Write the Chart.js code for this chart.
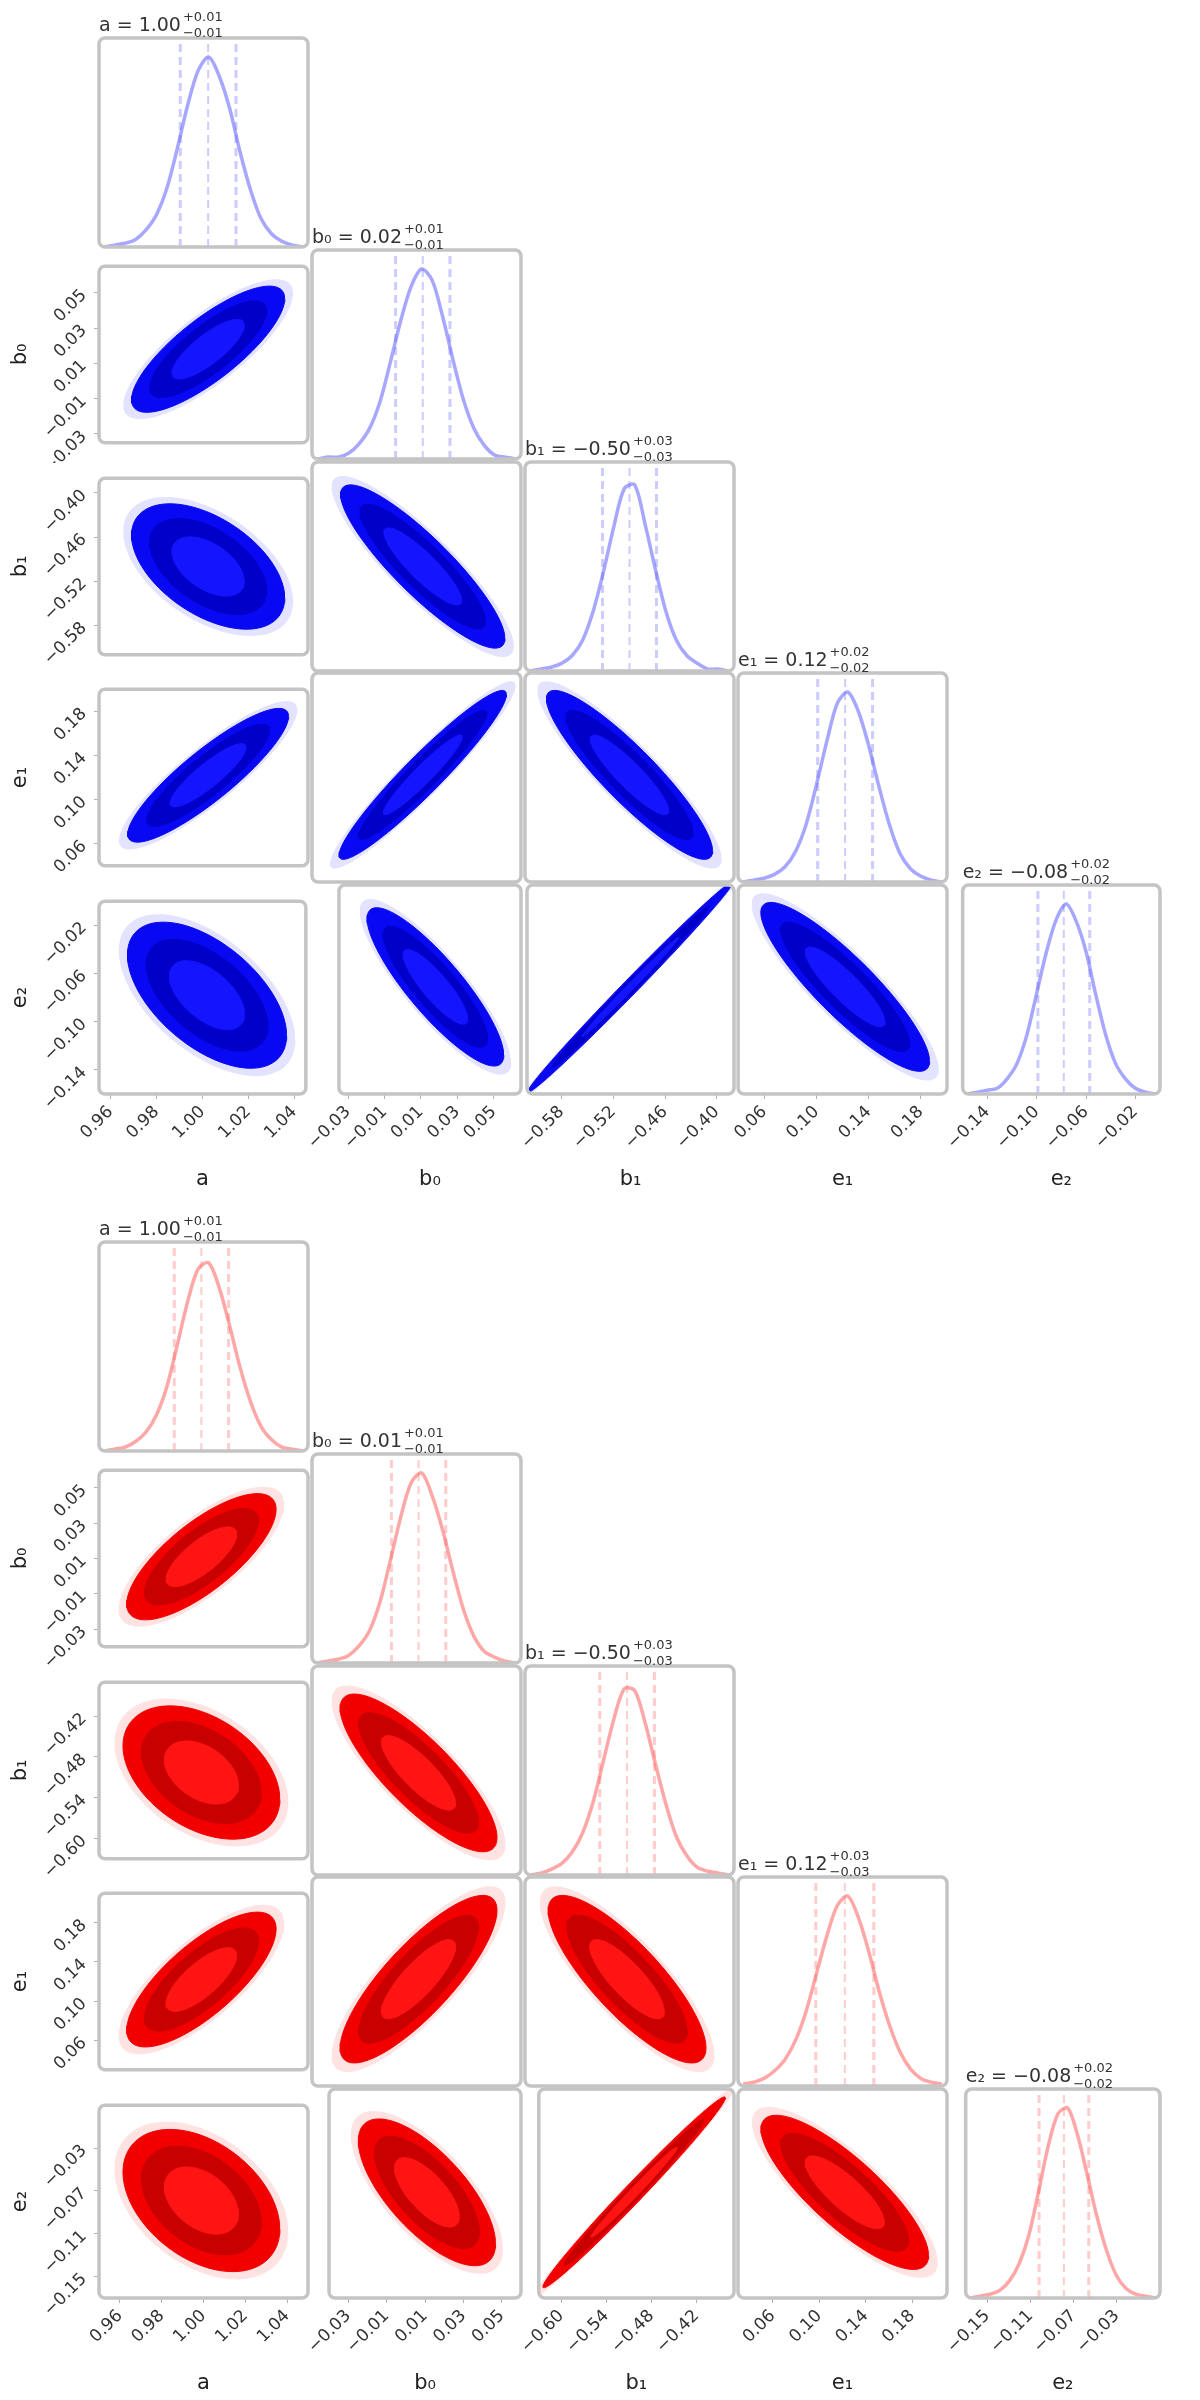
<!DOCTYPE html>
<html>
<head>
<meta charset="utf-8">
<script src="https://cdn.jsdelivr.net/npm/chart.js@4.4.1/dist/chart.umd.min.js"></script>
<style>
  html, body { margin: 0; padding: 0; background: #fff; }
  #page { position: relative; width: 1200px; height: 2400px; overflow: hidden; }
  #page canvas { position: absolute; }
</style>
</head>
<body>
<div id="page"></div>
<script>
const paramNames = ['a', 'b₀', 'b₁', 'e₁', 'e₂'];

// pairs of the lower triangle (row = y parameter, col = x parameter)
const pairRows = [1, 2, 2, 3, 3, 3, 4, 4, 4, 4];
const pairCols = [0, 0, 1, 0, 1, 2, 0, 1, 2, 3];

// blue run
const blueMin = [0.955, -0.035, -0.62, 0.04, -0.16];
const blueMax = [1.045, 0.065, -0.38, 0.20, 0.00];
const blueMean = [1.002, 0.018, -0.500, 0.122, -0.078];
const blueErr = [0.012, 0.013, 0.031, 0.021, 0.021];
const blueTicks = [
  [0.96, 0.98, 1.00, 1.02, 1.04],
  [-0.03, -0.01, 0.01, 0.03, 0.05],
  [-0.58, -0.52, -0.46, -0.40],
  [0.06, 0.10, 0.14, 0.18],
  [-0.14, -0.10, -0.06, -0.02]
];
const blueHist = [
  [0, 1, 2, 4, 9, 17, 31, 52, 75, 93, 100, 90, 73, 50, 30, 15, 7, 3, 1, 0],
  [0, 1, 1, 3, 8, 16, 30, 51, 73, 91, 100, 94, 75, 52, 31, 16, 7, 2, 1, 0],
  [0, 1, 2, 4, 8, 16, 31, 52, 76, 96, 98, 77, 53, 31, 16, 8, 4, 1, 1, 0],
  [0, 1, 2, 4, 8, 16, 30, 51, 74, 94, 100, 90, 72, 50, 30, 15, 7, 3, 1, 0],
  [0, 1, 2, 3, 8, 16, 31, 53, 75, 92, 100, 91, 75, 52, 31, 16, 8, 3, 1, 0]
];
const blueCorr = [0.80, -0.50, -0.88, 0.88, 0.95, -0.90, -0.55, -0.86, 0.995, -0.88];
const blueSpread = [1.0, 1.0, 1.1, 1.05, 1.12, 1.12, 1.05, 1.05, 1.4, 1.12];

// red run
const redMin = [0.950, -0.040, -0.63, 0.03, -0.17];
const redMax = [1.050, 0.060, -0.37, 0.21, 0.01];
const redMean = [0.999, 0.011, -0.503, 0.122, -0.079];
const redErr = [0.013, 0.013, 0.034, 0.025, 0.023];
const redTicks = [
  [0.96, 0.98, 1.00, 1.02, 1.04],
  [-0.03, -0.01, 0.01, 0.03, 0.05],
  [-0.60, -0.54, -0.48, -0.42],
  [0.06, 0.10, 0.14, 0.18],
  [-0.15, -0.11, -0.07, -0.03]
];
const redHist = [
  [0, 1, 2, 5, 10, 19, 34, 56, 79, 96, 99, 86, 66, 44, 26, 13, 6, 2, 1, 0],
  [0, 1, 2, 4, 9, 17, 32, 54, 77, 95, 100, 88, 70, 48, 28, 14, 6, 3, 1, 0],
  [0, 1, 3, 6, 12, 22, 38, 60, 82, 98, 97, 80, 58, 37, 20, 10, 4, 2, 1, 0],
  [1, 2, 4, 8, 14, 24, 39, 59, 79, 95, 100, 89, 71, 50, 32, 18, 9, 4, 2, 1],
  [0, 1, 2, 4, 9, 18, 33, 56, 80, 97, 100, 86, 65, 43, 25, 12, 5, 2, 1, 0]
];
const redCorr = [0.75, -0.40, -0.82, 0.75, 0.82, -0.82, -0.40, -0.70, 0.99, -0.82];
const redSpread = [1.0, 1.05, 1.05, 1.0, 1.05, 1.05, 1.05, 1.0, 1.3, 1.05];

// Mahalanobis radius of each filled level: faint halo, outer, dark band, core
const contourLevels = [3.05, 2.75, 2.1, 1.3];

const runs = [
  {
    offsetY: 0, min: blueMin, max: blueMax, mean: blueMean, err: blueErr,
    ticks: blueTicks, hist: blueHist, corr: blueCorr, spread: blueSpread,
    fills: ['rgba(40,40,255,0.13)', '#0808f2', '#0000c8', '#1414ff'],
    histColor: 'rgba(95,95,255,0.55)', qColor: 'rgba(110,110,255,0.35)'
  },
  {
    offsetY: 1204, min: redMin, max: redMax, mean: redMean, err: redErr,
    ticks: redTicks, hist: redHist, corr: redCorr, spread: redSpread,
    fills: ['rgba(255,40,40,0.13)', '#f20000', '#c80000', '#ff1414'],
    histColor: 'rgba(255,95,95,0.55)', qColor: 'rgba(255,110,110,0.35)'
  }
];

const FONT = '"DejaVu Sans", sans-serif';

function fmt(v) {
  return Number(v).toFixed(2).replace('-', '\u2212');
}

// title above each diagonal panel, with stacked errors
const cornerTitle = {
  id: 'cornerTitle',
  afterDraw(chart, args, opts) {
    if (!opts || !opts.text) return;
    const ctx = chart.ctx, a = chart.chartArea;
    ctx.save();
    ctx.fillStyle = '#333';
    ctx.textBaseline = 'alphabetic';
    ctx.textAlign = 'left';
    ctx.font = '19px ' + FONT;
    const y = a.top - 7;
    ctx.fillText(opts.text, a.left, y);
    const w = ctx.measureText(opts.text).width;
    ctx.font = '13px ' + FONT;
    ctx.fillText(opts.up, a.left + w + 2, y - 10);
    ctx.fillText(opts.down, a.left + w + 2, y + 6);
    ctx.restore();
  }
};

// light frame around each panel
const panelFrame = {
  id: 'panelFrame',
  afterDatasetsDraw(chart) {
    const ctx = chart.ctx, a = chart.chartArea;
    ctx.save();
    ctx.strokeStyle = '#c4c4c4';
    ctx.lineWidth = 3.5;
    ctx.beginPath();
    ctx.roundRect(a.left, a.top, a.right - a.left, a.bottom - a.top, 6);
    ctx.stroke();
    ctx.restore();
  }
};

Chart.register(cornerTitle, panelFrame);

function ellipsePoints(mx, my, sx, sy, rho, k) {
  const pts = [];
  const n = 72;
  const s = Math.sqrt(Math.max(0, 1 - rho * rho));
  for (let i = 0; i <= n; i++) {
    const t = (i / n) * Math.PI * 2;
    const u = Math.cos(t), v = Math.sin(t);
    pts.push({ x: mx + k * sx * u, y: my + k * sy * (rho * u + s * v) });
  }
  return pts;
}

const page = document.getElementById('page');

function makePanel(run, row, col) {
  const m = 4;
  const left = Math.round(99 + 213 * col);
  const top = Math.round(run.offsetY + 38 + 211.8 * row);
  const pw = 209, ph = 209;
  const showY = col === 0 && row > 0;
  const showX = row === 4;
  const diag = row === col;
  const extraLeft = showY ? 95 : 0;
  const extraBottom = showX ? 100 : 0;
  const extraTop = diag ? 34 : 0;
  const cx = left - extraLeft - m;
  const cy = top - extraTop - m;
  const cw = pw + extraLeft + 2 * m;
  const ch = ph + extraTop + extraBottom + 2 * m;

  const canvas = document.createElement('canvas');
  canvas.width = cw;
  canvas.height = ch;
  canvas.style.left = cx + 'px';
  canvas.style.top = cy + 'px';
  canvas.style.width = cw + 'px';
  canvas.style.height = ch + 'px';
  page.appendChild(canvas);

  const datasets = [];
  let yMin, yMax;
  if (diag) {
    const lo = run.min[col], hi = run.max[col];
    const bw = (hi - lo) / run.hist[col].length;
    datasets.push({
      data: run.hist[col].map((h, b) => ({ x: lo + (b + 0.5) * bw, y: h })),
      borderColor: run.histColor, borderWidth: 3.5, pointRadius: 0, fill: false, tension: 0.3
    });
    const q = [run.mean[col] - run.err[col], run.mean[col], run.mean[col] + run.err[col]];
    q.forEach((qv, qi) => {
      datasets.push({
        data: [{ x: qv, y: 0 }, { x: qv, y: 110 }],
        borderColor: run.qColor, borderWidth: qi === 1 ? 2 : 3, borderDash: [8, 5],
        pointRadius: 0, fill: false
      });
    });
    yMin = 0; yMax = 110;
  } else {
    const p = pairRows.findIndex((r, idx) => r === row && pairCols[idx] === col);
    const rho = run.corr[p], sp = run.spread[p];
    // dataset 0 is painted last, so push the core first and the halo last
    for (let li = contourLevels.length - 1; li >= 0; li--) {
      datasets.push({
        data: ellipsePoints(run.mean[col], run.mean[row], run.err[col], run.err[row], rho, contourLevels[li] * sp),
        borderColor: run.fills[li], backgroundColor: run.fills[li], borderWidth: li === 0 ? 0 : 1,
        pointRadius: 0, fill: 'shape', tension: 0
      });
    }
    yMin = run.min[row]; yMax = run.max[row];
  }

  const tickFont = { size: 17, family: FONT };
  const titleFont = { size: 21, family: FONT };

  new Chart(canvas, {
    type: 'line',
    data: { datasets },
    options: {
      responsive: false,
      devicePixelRatio: 1,
      animation: false,
      events: [],
      layout: { autoPadding: false, padding: { left: m, right: m, top: m + extraTop, bottom: m } },
      scales: {
        x: {
          type: 'linear',
          min: run.min[col],
          max: run.max[col],
          display: showX,
          afterFit: s => { s.height = extraBottom; },
          afterBuildTicks: s => { s.ticks = run.ticks[col].map(v => ({ value: v })); },
          grid: { display: true, drawOnChartArea: false, tickLength: 5, color: '#b0b0b0' },
          border: { display: false },
          ticks: {
            minRotation: 45, maxRotation: 45, autoSkip: false, padding: 3,
            font: tickFont, color: '#333', callback: v => fmt(v)
          },
          title: { display: true, text: paramNames[col], font: titleFont, color: '#222', padding: { top: 0, bottom: 2 } }
        },
        y: {
          type: 'linear',
          min: yMin,
          max: yMax,
          display: showY,
          afterFit: s => { s.width = extraLeft; },
          afterBuildTicks: s => { if (showY) s.ticks = run.ticks[row].map(v => ({ value: v })); },
          grid: { display: true, drawOnChartArea: false, tickLength: 5, color: '#b0b0b0' },
          border: { display: false },
          ticks: {
            minRotation: 45, maxRotation: 45, autoSkip: false, padding: 10,
            font: tickFont, color: '#333', callback: v => fmt(v)
          },
          title: { display: true, text: paramNames[row], font: titleFont, color: '#222', padding: { top: 4, bottom: 0 } }
        }
      },
      plugins: {
        legend: { display: false },
        tooltip: { enabled: false },
        cornerTitle: diag ? {
          text: paramNames[col] + ' = ' + fmt(run.mean[col]),
          up: '+' + run.err[col].toFixed(2),
          down: '\u2212' + run.err[col].toFixed(2)
        } : {}
      }
    }
  });
}

runs.forEach(run => {
  for (let row = 0; row < 5; row++) {
    for (let col = 0; col <= row; col++) {
      makePanel(run, row, col);
    }
  }
});
</script>
</body>
</html>
